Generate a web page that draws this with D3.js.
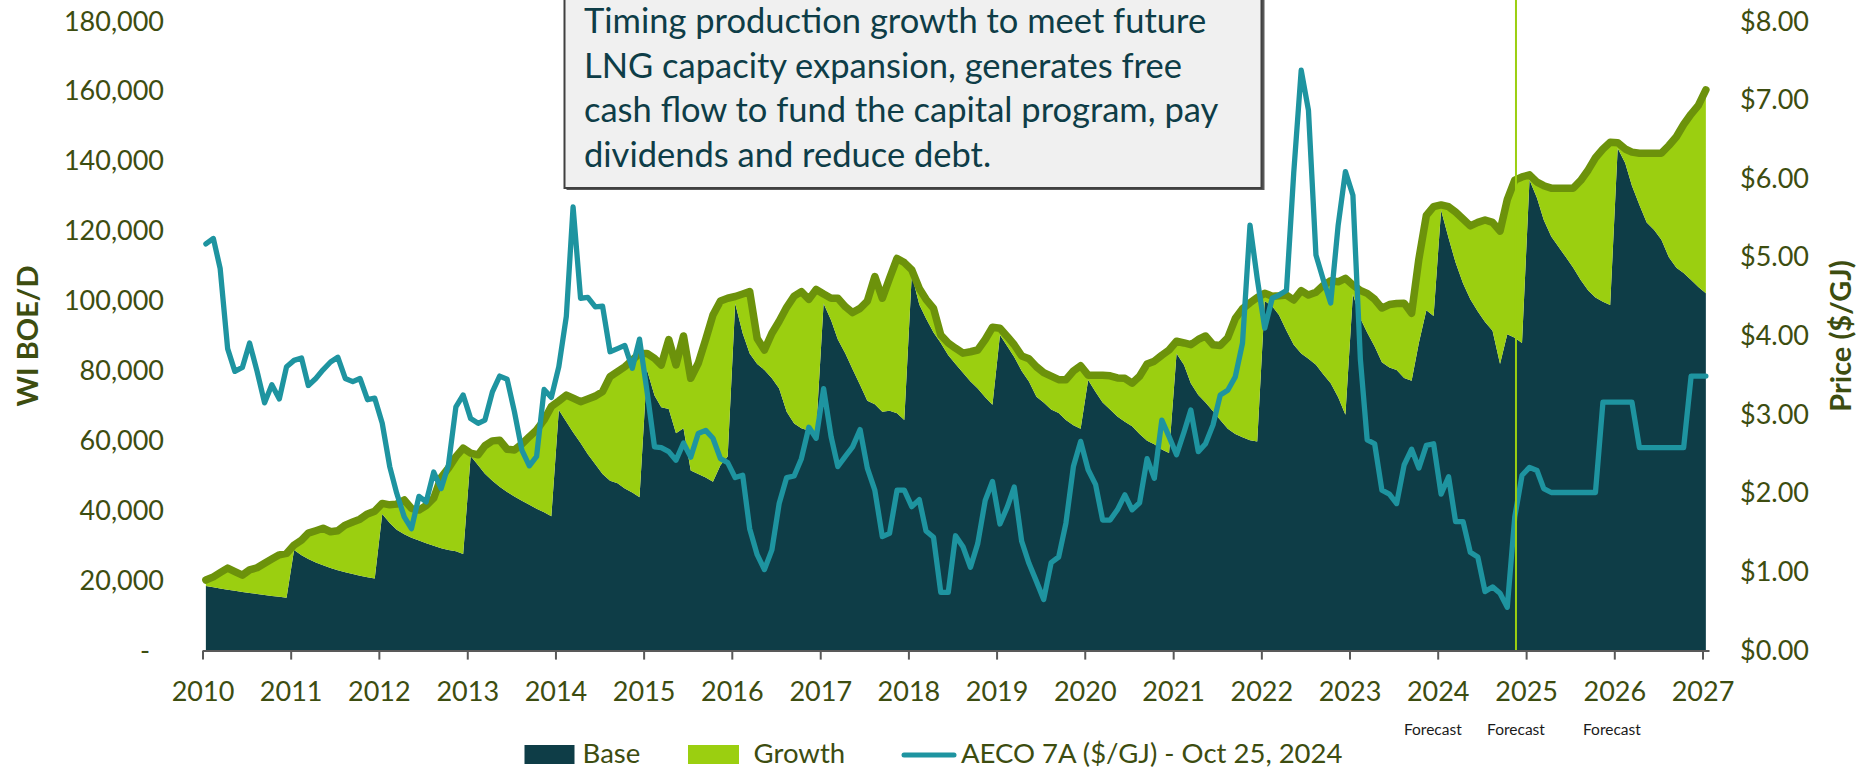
<!DOCTYPE html>
<html>
<head>
<meta charset="utf-8">
<script src="https://cdn.jsdelivr.net/npm/d3@7"></script>
<style>
  body { margin: 0; background: #fff; }
  svg { display: block; font-family: Lato, sans-serif; }
</style>
</head>
<body>
<svg id="chart" width="1865" height="772"></svg>
<script>

// Monthly values, Jan 2010 .. Jan 2027 (thousands of WI BOE/D).
var baseK = [
  18.5, 18.1, 17.8, 17.4, 17.1, 16.8, 16.5, 16.2, 15.9, 15.6, 15.4, 15.1,
  28.8, 27.3, 26.2, 25.2, 24.4, 23.6, 23.0, 22.4, 21.9, 21.4, 21.0, 20.6,
  39.1, 36.5, 34.6, 33.3, 32.3, 31.5, 30.7, 30.0, 29.3, 28.8, 28.4, 27.6,
  55.7, 53.0, 50.6, 48.6, 46.9, 45.4, 44.1, 42.9, 41.7, 40.6, 39.6, 38.4,
  68.8, 65.5, 62.5, 59.4, 56.2, 53.3, 50.5, 48.6, 47.9, 46.4, 45.2, 43.9,
  80.3, 73.0, 69.6, 69.1, 62.2, 63.6, 51.5, 50.5, 49.5, 48.3, 53.0, 55.5,
  99.3, 90.8, 85.0, 82.0, 80.3, 77.9, 75.0, 68.3, 65.0, 63.6, 62.9, 62.7,
  99.3, 94.5, 89.0, 85.0, 80.5, 76.0, 71.5, 70.5, 68.3, 68.6, 67.9, 66.0,
  107.5, 99.0, 95.0, 91.0, 88.0, 84.5, 82.0, 79.5, 77.0, 75.0, 72.5, 70.3,
  90.3, 87.0, 84.0, 80.0, 77.0, 72.6, 71.0, 69.0, 68.0, 66.0, 64.5, 63.5,
  77.4, 74.0, 71.0, 69.0, 67.0, 65.5, 64.2, 62.0, 60.0, 59.0, 57.5, 56.5,
  85.0, 81.7, 76.5, 73.1, 71.0, 68.5, 66.0, 63.5, 62.0, 61.0, 60.2, 59.8,
  100.0, 98.5, 96.0, 91.5, 87.5, 85.0, 83.5, 81.8, 79.0, 76.5, 72.5, 67.5,
  102.0, 95.0, 91.0, 87.0, 82.5, 81.0, 80.3, 78.0, 77.2, 88.0, 97.4, 95.7,
  126.0, 118.0, 111.0, 105.0, 100.5, 97.0, 94.0, 91.5, 82.0, 90.5, 89.5, 88.0,
  134.6, 129.5, 123.2, 118.5, 115.5, 112.5, 109.5, 106.0, 103.0, 101.0, 99.8, 98.9,
  143.7, 139.5, 133.0, 127.5, 122.5, 120.3, 117.5, 112.5, 109.5, 108.0, 106.0, 104.0,
  102.2
];

// Base + Growth, i.e. the top of the stack.
var totalK = [
  20.2, 21.1, 22.3, 23.6, 22.6, 21.6, 23.1, 23.7, 25.0, 26.2, 27.4, 27.8,
  30.2, 31.6, 33.6, 34.3, 35.0, 34.0, 34.3, 35.9, 36.8, 37.6, 39.1, 39.9,
  42.1, 41.7, 41.9, 43.1, 40.7, 40.2, 41.5, 43.6, 49.6, 52.2, 55.5, 57.9,
  56.5, 56.0, 58.6, 60.0, 60.2, 57.6, 57.4, 59.1, 61.2, 63.1, 66.0, 69.8,
  71.4, 73.1, 72.2, 71.2, 72.0, 72.8, 74.1, 78.4, 79.8, 81.2, 83.1, 85.0,
  85.0, 83.6, 81.7, 89.0, 81.7, 90.0, 77.9, 82.2, 89.0, 96.0, 100.0, 100.8,
  101.3, 102.0, 102.7, 89.3, 86.0, 90.8, 94.2, 98.2, 101.4, 102.7, 100.5, 103.3,
  102.0, 100.8, 100.8, 98.4, 96.7, 97.9, 100.0, 107.0, 100.8, 106.5, 112.2, 111.0,
  108.9, 103.6, 100.5, 97.9, 90.3, 88.0, 86.5, 85.1, 85.5, 86.0, 89.0, 92.5,
  92.2, 89.8, 87.5, 84.3, 83.5, 81.2, 79.5, 78.5, 77.5, 77.5, 80.0, 81.5,
  78.8, 78.8, 78.8, 78.6, 78.0, 77.9, 76.5, 78.5, 82.0, 82.8, 84.5, 86.0,
  88.5, 88.0, 87.5, 89.0, 90.0, 87.5, 87.3, 89.5, 95.0, 97.8, 99.5, 101.0,
  102.2, 101.4, 101.5, 101.7, 100.3, 103.0, 101.7, 102.5, 104.5, 105.8, 105.5, 106.5,
  104.6, 103.0, 102.2, 100.5, 98.0, 99.0, 99.3, 99.4, 96.5, 112.0, 124.5, 127.0,
  127.5, 127.0, 125.5, 123.5, 121.5, 122.5, 123.2, 122.5, 120.0, 129.0, 134.6, 135.5,
  136.1, 134.0, 133.0, 132.3, 132.3, 132.3, 132.3, 134.5, 137.5, 141.0, 143.5, 145.4,
  145.3, 143.5, 142.6, 142.3, 142.3, 142.3, 142.3, 144.5, 147.0, 150.5, 153.5, 156.0,
  160.4
];

// AECO 7A, $/GJ
var aeco = [
  5.17, 5.24, 4.86, 3.84, 3.55, 3.60, 3.91, 3.55, 3.15, 3.38, 3.20, 3.61,
  3.69, 3.72, 3.37, 3.46, 3.57, 3.67, 3.73, 3.46, 3.42, 3.46, 3.19, 3.21,
  2.89, 2.34, 2.00, 1.70, 1.55, 1.96, 1.89, 2.27, 2.06, 2.36, 3.10, 3.25,
  2.95, 2.89, 2.93, 3.29, 3.49, 3.45, 3.04, 2.55, 2.35, 2.47, 3.32, 3.22,
  3.61, 4.25, 5.64, 4.48, 4.49, 4.37, 4.38, 3.80, 3.84, 3.88, 3.59, 3.96,
  3.30, 2.59, 2.58, 2.53, 2.42, 2.64, 2.46, 2.76, 2.80, 2.70, 2.44, 2.39,
  2.20, 2.23, 1.55, 1.22, 1.03, 1.28, 1.87, 2.20, 2.22, 2.44, 2.84, 2.70,
  3.33, 2.72, 2.34, 2.47, 2.59, 2.81, 2.32, 2.04, 1.45, 1.49, 2.04, 2.04,
  1.83, 1.92, 1.52, 1.44, 0.74, 0.74, 1.46, 1.32, 1.06, 1.36, 1.91, 2.15,
  1.61, 1.83, 2.08, 1.39, 1.11, 0.88, 0.65, 1.12, 1.19, 1.62, 2.34, 2.66,
  2.30, 2.11, 1.66, 1.66, 1.79, 1.98, 1.79, 1.88, 2.44, 2.19, 2.93, 2.72,
  2.49, 2.78, 3.06, 2.53, 2.63, 2.87, 3.25, 3.31, 3.48, 3.91, 5.41, 4.73,
  4.10, 4.48, 4.52, 4.58, 6.07, 7.38, 6.87, 5.03, 4.71, 4.42, 5.41, 6.09,
  5.79, 3.70, 2.68, 2.63, 2.04, 1.99, 1.87, 2.36, 2.56, 2.32, 2.61, 2.63,
  1.99, 2.21, 1.64, 1.64, 1.25, 1.19, 0.75, 0.81, 0.73, 0.55, 1.70, 2.23,
  2.33, 2.29, 2.06, 2.01, 2.01, 2.01, 2.01, 2.01, 2.01, 2.01, 3.16, 3.16,
  3.16, 3.16, 3.16, 2.58, 2.58, 2.58, 2.58, 2.58, 2.58, 2.58, 3.49, 3.49,
  3.49
];

var yearTicks = d3.range(2010, 2028);
var volumeTicks = d3.range(0, 181, 20);      // thousands
var priceTicks = d3.range(0, 9, 1);
var forecastAt = [new Date(2023, 11, 12), new Date(2024, 10, 20), new Date(2025, 11, 22)];
var todayLine = new Date(2024, 10, 20);

var noteLines = [
  'Timing production growth to meet future',
  'LNG capacity expansion, generates free',
  'cash flow to fund the capital program, pay',
  'dividends and reduce debt.'
];

var colors = {
  base: '#0e3d47',
  growth: '#9bcf10',
  total: '#6c920b',
  aeco: '#1e94a0',
  text: '#3d4d10',
  axis: '#595959'
};

// months, plotted mid-month
var months = d3.timeMonth.range(new Date(2010, 0, 1), new Date(2027, 1, 1))
  .map(function(d) { return new Date(d.getFullYear(), d.getMonth(), 15); });

var rows = months.map(function(d, i) {
  return { date: d, base: baseK[i], growth: totalK[i] - baseK[i], total: totalK[i], aeco: aeco[i] };
});

var svg = d3.select('#chart');

var x = d3.scaleTime()
  .domain([new Date(2010, 0, 1), new Date(2027, 0, 28)])
  .range([202.5, 1709]);

var y = d3.scaleLinear().domain([0, 180]).range([650.6, 21.4]);
var y2 = d3.scaleLinear().domain([0, 8]).range([650.6, 21.4]);

// Stacked areas.
var stack = d3.stack().keys(['base', 'growth'])(rows);

var area = d3.area()
  .x(function(d) { return x(d.data.date); })
  .y0(function(d) { return y(d[0]); })
  .y1(function(d) { return y(d[1]); });

svg.append('g').selectAll('path').data(stack).enter()
  .append('path')
    .attr('d', area)
    .attr('fill', function(d) { return colors[d.key]; });

// Total line on top of the stack.
svg.append('path')
  .datum(rows)
  .attr('d', d3.line()
    .x(function(d) { return x(d.date); })
    .y(function(d) { return y(d.total); }))
  .attr('fill', 'none')
  .attr('stroke', colors.total)
  .attr('stroke-width', 7.5)
  .attr('stroke-linejoin', 'round')
  .attr('stroke-linecap', 'round');

// AECO price.
svg.append('path')
  .datum(rows)
  .attr('d', d3.line()
    .x(function(d) { return x(d.date); })
    .y(function(d) { return y2(d.aeco); }))
  .attr('fill', 'none')
  .attr('stroke', colors.aeco)
  .attr('stroke-width', 5.3)
  .attr('stroke-linejoin', 'round')
  .attr('stroke-linecap', 'round');

// Today marker.
svg.append('line')
  .attr('x1', x(todayLine)).attr('x2', x(todayLine))
  .attr('y1', 0).attr('y2', y(0))
  .attr('stroke', '#9bcf10')
  .attr('stroke-width', 2);

// Axes.
var xAxis = svg.append('g')
  .attr('transform', 'translate(0,' + y(0) + ')')
  .call(d3.axisBottom(x)
    .tickValues(yearTicks.map(function(yr) { return new Date(yr, 0, 1); }))
    .tickFormat(d3.timeFormat('%Y'))
    .tickSize(9)
    .tickSizeOuter(0)
    .tickPadding(22));

xAxis.select('.domain').attr('stroke', colors.axis).attr('stroke-width', 2);
xAxis.selectAll('.tick line').attr('stroke', colors.axis).attr('stroke-width', 2);
xAxis.selectAll('text')
  .attr('fill', colors.text)
  .style('font-size', '27px')
  .style('font-family', 'Lato, sans-serif');

var leftAxis = svg.append('g')
  .attr('transform', 'translate(164,0)')
  .call(d3.axisLeft(y)
    .tickValues(volumeTicks)
    .tickFormat(function(d) { return d === 0 ? '-' : d3.format(',')(d * 1000); })
    .tickSize(0)
    .tickPadding(0));

leftAxis.select('.domain').remove();
leftAxis.selectAll('text')
  .attr('fill', colors.text)
  .style('font-size', '27px')
  .style('font-family', 'Lato, sans-serif')
  .attr('dx', function(d) { return d === 0 ? -14 : 0; });

var rightAxis = svg.append('g')
  .attr('transform', 'translate(1740,0)')
  .call(d3.axisRight(y2)
    .tickValues(priceTicks)
    .tickFormat(d3.format('$.2f'))
    .tickSize(0)
    .tickPadding(0));

rightAxis.select('.domain').remove();
rightAxis.selectAll('text')
  .attr('fill', colors.text)
  .style('font-size', '27px')
  .style('font-family', 'Lato, sans-serif');

// Axis titles.
svg.append('text')
  .attr('transform', 'translate(38,336) rotate(-90)')
  .attr('text-anchor', 'middle')
  .attr('fill', colors.text)
  .style('font-size', '29px')
  .style('font-weight', 'bold')
  .text('WI BOE/D');

svg.append('text')
  .attr('transform', 'translate(1851,336) rotate(-90)')
  .attr('text-anchor', 'middle')
  .attr('fill', colors.text)
  .style('font-size', '29px')
  .style('font-weight', 'bold')
  .text('Price ($/GJ)');

// Forecast labels.
svg.append('g').selectAll('text').data(forecastAt).enter()
  .append('text')
    .attr('x', function(d) { return x(d); })
    .attr('y', 735)
    .attr('text-anchor', 'middle')
    .attr('fill', '#1a1a1a')
    .style('font-size', '15.5px')
    .text('Forecast');

// Note box.
var note = svg.append('g');
note.append('rect')
  .attr('x', 566.5).attr('y', -6).attr('width', 698).attr('height', 196)
  .attr('fill', '#595959');
note.append('rect')
  .attr('x', 564.5).attr('y', -6).attr('width', 697).attr('height', 194)
  .attr('fill', '#f0f0f0')
  .attr('stroke', '#404040')
  .attr('stroke-width', 2);
note.selectAll('.line').data(noteLines).enter()
  .append('text')
    .classed('line', true)
    .attr('x', 584)
    .attr('y', function(d, i) { return 33.3 + i * 44.4; })
    .attr('fill', '#0e3d47')
    .style('font-size', '34.5px')
    .text(function(d) { return d; });

// Legend.
var legend = svg.append('g');
legend.append('rect').attr('x', 524.5).attr('y', 745).attr('width', 50).attr('height', 19)
  .attr('fill', colors.base);
legend.append('text').attr('x', 582.6).attr('y', 763.3).text('Base');
legend.append('rect').attr('x', 688).attr('y', 745).attr('width', 51).attr('height', 19)
  .attr('fill', colors.growth);
legend.append('text').attr('x', 753.6).attr('y', 763.3).text('Growth');
legend.append('line').attr('x1', 904).attr('x2', 954).attr('y1', 755).attr('y2', 755)
  .attr('stroke', colors.aeco).attr('stroke-width', 5).attr('stroke-linecap', 'round');
legend.append('text').attr('x', 961).attr('y', 763.3).text('AECO 7A ($/GJ) - Oct 25, 2024');
legend.selectAll('text')
  .attr('fill', colors.text)
  .style('font-size', '27.5px');

</script>
</body>
</html>
